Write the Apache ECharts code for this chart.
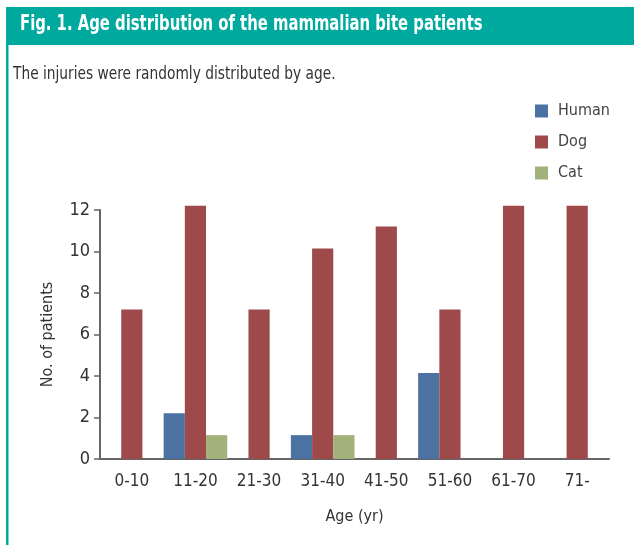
<!DOCTYPE html>
<html>
<head>
<meta charset="utf-8">
<script src="https://cdn.jsdelivr.net/npm/echarts@6/dist/echarts.min.js"></script>
<style>
html, body { margin: 0; padding: 0; background: #fff; }
#chart { width: 634px; height: 545px; }
</style>
</head>
<body>
<div id="chart"></div>
<script>
const ageGroups = ['0-10', '11-20', '21-30', '31-40', '41-50', '51-60', '61-70', '71-']
const humanCounts = [0, 2.2, 0, 1.15, 0, 4.15, 0, 0]
const dogCounts = [7.2, 12.2, 7.2, 10.15, 11.2, 7.2, 12.2, 12.2]
const catCounts = [0, 1.15, 0, 1.15, 0, 0, 0, 0]

const teal = '#00a99d'
const font = '"DejaVu Sans Condensed", "Liberation Sans Narrow", sans-serif'

const chart = echarts.init(document.getElementById('chart'))

function barSeries(name, data, color) {
    return {
        name: name,
        type: 'bar',
        data: data,
        barGap: '0%',
        barCategoryGap: '0%',
        clip: false,
        itemStyle: { color: color },
        animation: false
    }
}

chart.setOption({
    animation: false,
    textStyle: { fontFamily: font },
    graphic: [
        {
            type: 'rect',
            shape: { x: 6, y: 7, width: 628, height: 38 },
            style: { fill: teal }
        },
        {
            type: 'rect',
            shape: { x: 6, y: 45, width: 2.5, height: 500 },
            style: { fill: teal }
        },
        {
            type: 'text',
            x: 20,
            y: 14,
            scaleX: 0.785,
            style: {
                text: 'Fig. 1. Age distribution of the mammalian bite patients',
                fill: '#fff',
                font: 'bold 21px ' + font
            }
        },
        {
            type: 'text',
            x: 13,
            y: 65,
            scaleX: 0.85,
            style: {
                text: 'The injuries were randomly distributed by age.',
                fill: '#333',
                font: '18px ' + font
            }
        }
    ],
    legend: {
        orient: 'vertical',
        left: 530,
        top: 98,
        itemWidth: 13,
        itemHeight: 13,
        itemGap: 15,
        icon: 'rect',
        textStyle: { fontSize: 16, color: '#444', fontFamily: font, padding: [0, 0, 0, 5] },
        data: ['Human', 'Dog', 'Cat']
    },
    grid: {
        left: 100,
        right: 25,
        top: 210,
        bottom: 86
    },
    xAxis: {
        type: 'category',
        data: ageGroups,
        name: 'Age (yr)',
        nameLocation: 'middle',
        nameGap: 50,
        nameTextStyle: { fontSize: 16, color: '#333', fontFamily: font },
        axisLine: { lineStyle: { color: '#666', width: 2 } },
        axisTick: { show: false },
        axisLabel: { fontSize: 17, color: '#333', margin: 14, fontFamily: font }
    },
    yAxis: {
        type: 'value',
        min: 0,
        max: 12,
        interval: 2,
        name: 'No. of patients',
        nameLocation: 'middle',
        nameGap: 44,
        nameTextStyle: { fontSize: 16, color: '#333', fontFamily: font },
        axisLine: { show: true, lineStyle: { color: '#666', width: 2 } },
        axisTick: { show: true, length: 6, lineStyle: { color: '#666', width: 1.5 } },
        splitLine: { show: false },
        axisLabel: { fontSize: 18, color: '#333', margin: 10, fontFamily: font }
    },
    series: [
        barSeries('Human', humanCounts, '#4b72a0'),
        barSeries('Dog', dogCounts, '#9e4a4b'),
        barSeries('Cat', catCounts, '#a1b27a')
    ]
})
</script>
</body>
</html>
